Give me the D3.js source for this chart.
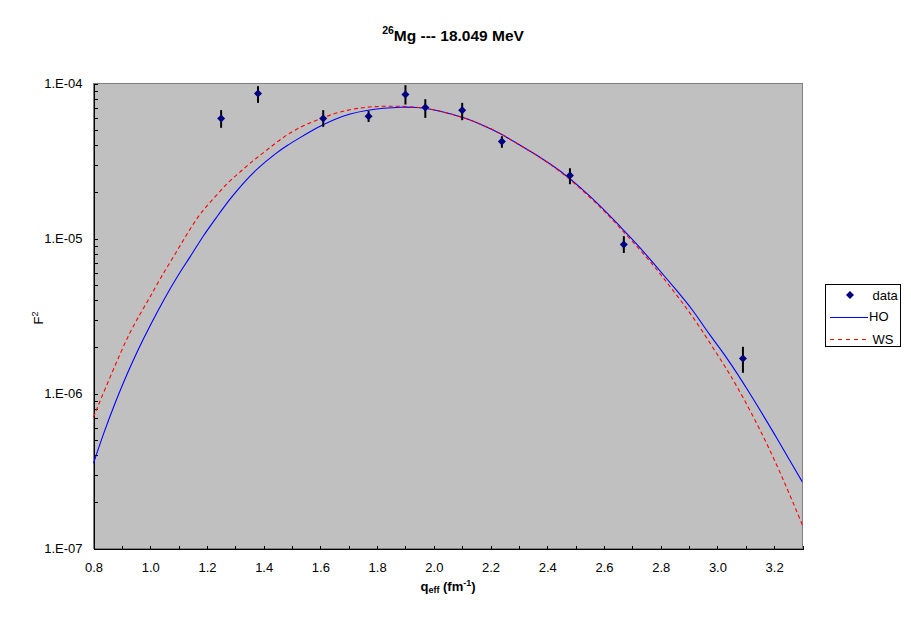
<!DOCTYPE html>
<html>
<head>
<meta charset="utf-8">
<script src="https://cdn.jsdelivr.net/npm/d3@7"></script>
<style>
  html, body { margin: 0; padding: 0; background: #ffffff; }
  svg { display: block; }
  text { font-family: Arial, "Liberation Sans", sans-serif; fill: #000; }
</style>
</head>
<body>
<script>
// ---------- data ----------
const titleMain = "Mg --- 18.049 MeV";
const titleSup = "26";
const xTickValues = [0.8, 1.0, 1.2, 1.4, 1.6, 1.8, 2.0, 2.2, 2.4, 2.6, 2.8, 3.0, 3.2];
const yTickValues = [1e-4, 1e-5, 1e-6, 1e-7];
const yTickLabels = ["1.E-04", "1.E-05", "1.E-06", "1.E-07"];
const legendLabels = ["data", "HO", "WS"];

// measured points with error bars
const dataQ  = [1.25, 1.38, 1.61, 1.77, 1.90, 1.97, 2.10, 2.24, 2.48, 2.67, 3.09];
const dataF2 = [5.94e-5, 8.62e-5, 5.94e-5, 6.15e-5, 8.49e-5, 7.00e-5, 6.73e-5, 4.22e-5, 2.55e-5, 9.14e-6, 1.68e-6];
const dataHi = [6.73e-5, 9.61e-5, 6.73e-5, 6.66e-5, 9.75e-5, 7.92e-5, 7.50e-5, 4.57e-5, 2.84e-5, 1.035e-5, 2.00e-6];
const dataLo = [5.18e-5, 7.50e-5, 5.25e-5, 5.65e-5, 7.32e-5, 6.00e-5, 5.80e-5, 3.85e-5, 2.24e-5, 8.07e-6, 1.36e-6];

// HO curve
const hoQ = [0.800, 0.835, 0.882, 0.918, 0.953, 1.000, 1.047, 1.094, 1.141, 1.188, 1.235, 1.282, 1.329, 1.376,
             1.446, 1.481, 1.528, 1.587, 1.646, 1.705, 1.763, 1.822, 1.881, 1.940, 1.998, 2.057, 2.116, 2.174,
             2.233, 2.303, 2.374, 2.444, 2.515, 2.585, 2.656, 2.726, 2.785, 2.856, 2.914, 2.973, 3.032, 3.108,
             3.202, 3.300];
const hoF2 = [3.55e-7, 5.52e-7, 9.28e-7, 1.332e-6, 1.855e-6, 2.758e-6, 3.999e-6, 5.65e-6, 7.61e-6, 1.050e-5,
              1.378e-5, 1.811e-5, 2.29e-5, 2.82e-5, 3.58e-5, 3.97e-5, 4.47e-5, 5.185e-5, 5.857e-5, 6.40e-5,
              6.726e-5, 6.93e-5, 7.06e-5, 7.03e-5, 6.80e-5, 6.40e-5, 5.94e-5, 5.38e-5, 4.80e-5, 4.00e-5,
              3.36e-5, 2.758e-5, 2.152e-5, 1.640e-5, 1.200e-5, 8.83e-6, 6.56e-6, 4.64e-6, 3.45e-6, 2.377e-6,
              1.722e-6, 1.050e-6, 5.46e-7, 2.68e-7];

// WS curve
const wsQ = [0.800, 0.824, 0.859, 0.894, 0.929, 0.965, 1.000, 1.035, 1.082, 1.129, 1.175, 1.223, 1.270, 1.317,
             1.364, 1.411, 1.469, 1.528, 1.587, 1.646, 1.705, 1.763, 1.822, 1.881, 1.940, 1.998, 2.057, 2.116,
             2.174, 2.233, 2.303, 2.374, 2.444, 2.515, 2.585, 2.632, 2.761, 2.820, 2.879, 2.938, 2.997, 3.055,
             3.184, 3.300];
const wsF2 = [7.03e-7, 9.05e-7, 1.280e-6, 1.811e-6, 2.496e-6, 3.28e-6, 4.20e-6, 5.52e-6, 7.61e-6, 1.066e-5,
              1.449e-5, 1.811e-5, 2.263e-5, 2.690e-5, 3.20e-5, 3.713e-5, 4.52e-5, 5.25e-5, 5.80e-5, 6.40e-5,
              6.80e-5, 7.06e-5, 7.14e-5, 7.14e-5, 7.06e-5, 6.80e-5, 6.40e-5, 5.94e-5, 5.38e-5, 4.80e-5,
              4.00e-5, 3.35e-5, 2.73e-5, 2.12e-5, 1.61e-5, 1.312e-5, 7.24e-6, 5.25e-6, 3.81e-6, 2.69e-6,
              1.811e-6, 1.250e-6, 4.54e-7, 1.413e-7];

// ---------- layout ----------
const W = 911, H = 623;
const plot = { left: 93.5, right: 802.5, top: 83.5, bottom: 548.5 };

const svg = d3.select("body").append("svg").attr("width", W).attr("height", H);

const x = d3.scaleLinear().domain([0.8, 3.3]).range([plot.left, plot.right]);
const y = d3.scaleLog().domain([1e-7, 1e-4]).range([plot.bottom, plot.top]);

// plot background
svg.append("rect")
  .attr("x", plot.left).attr("y", plot.top)
  .attr("width", plot.right - plot.left).attr("height", plot.bottom - plot.top)
  .attr("fill", "#c0c0c0").attr("stroke", "#808080").attr("stroke-width", 1)
  .attr("shape-rendering", "crispEdges");

svg.append("defs").append("clipPath").attr("id", "clip")
  .append("rect")
  .attr("x", plot.left - 3).attr("y", plot.top)
  .attr("width", plot.right - plot.left + 3).attr("height", plot.bottom - plot.top);

// minor ticks on y
const yMinor = [];
for (let e = -7; e < -4; e++) for (let m = 2; m <= 9; m++) yMinor.push(m * Math.pow(10, e));

const yAxisMinor = d3.axisLeft(y).tickValues(yMinor).tickSize(-4).tickFormat("");
svg.append("g").attr("transform", `translate(${plot.left},0)`).call(yAxisMinor)
  .attr("shape-rendering", "crispEdges")
  .call(g => g.select(".domain").remove())
  .call(g => g.selectAll("line").attr("stroke", "#000"));

const yAxis = d3.axisLeft(y).tickValues(yTickValues).tickSize(-4).tickPadding(11)
  .tickFormat((d, i) => yTickLabels[i]);
svg.append("g").attr("transform", `translate(${plot.left},0)`).call(yAxis)
  .attr("shape-rendering", "crispEdges")
  .call(g => g.select(".domain").attr("stroke", "#000"))
  .call(g => g.selectAll("text").attr("font-size", 13).attr("font-family", 'Arial, "Liberation Sans", sans-serif'))
  .call(g => g.selectAll("line").attr("stroke", "#000"));

// x axis: minor every 0.1, labels every 0.2
const xMinor = d3.range(0, 26).map(i => +(0.8 + i * 0.1).toFixed(1));
const xAxisMinor = d3.axisBottom(x).tickValues(xMinor).tickSize(-3).tickFormat("");
svg.append("g").attr("transform", `translate(0,${plot.bottom})`).call(xAxisMinor)
  .attr("shape-rendering", "crispEdges")
  .call(g => g.select(".domain").remove())
  .call(g => g.selectAll("line").attr("stroke", "#000"));

const xAxis = d3.axisBottom(x).tickValues(xTickValues).tickSize(-3).tickPadding(14.5).tickFormat(d3.format(".1f"));
svg.append("g").attr("transform", `translate(0,${plot.bottom})`).call(xAxis)
  .attr("shape-rendering", "crispEdges")
  .call(g => g.select(".domain").attr("stroke", "#000"))
  .call(g => g.selectAll("text").attr("font-size", 13).attr("font-family", 'Arial, "Liberation Sans", sans-serif'))
  .call(g => g.selectAll("line").attr("stroke", "#000"));

// curves
const lineGen = d3.line().x(d => x(d[0])).y(d => y(d[1])).curve(d3.curveBasis);
const curves = svg.append("g").attr("clip-path", "url(#clip)");
curves.append("path")
  .attr("d", lineGen(d3.zip(hoQ, hoF2)))
  .attr("fill", "none").attr("stroke", "#0000ff").attr("stroke-width", 1.1);
curves.append("path")
  .attr("d", lineGen(d3.zip(wsQ, wsF2)))
  .attr("fill", "none").attr("stroke", "#ff0000").attr("stroke-width", 1.1)
  .attr("stroke-dasharray", "4,3");

// error bars
const pts = dataQ.map((q, i) => ({ q, f: dataF2[i], hi: dataHi[i], lo: dataLo[i] }));
svg.append("g").selectAll("line").data(pts).join("line")
  .attr("x1", d => x(d.q)).attr("x2", d => x(d.q))
  .attr("y1", d => y(d.hi)).attr("y2", d => y(d.lo))
  .attr("stroke", "#000").attr("stroke-width", 2);

// diamond markers
const diamond = (cx, cy, r) => `M${cx},${cy - r}L${cx + r},${cy}L${cx},${cy + r}L${cx - r},${cy}Z`;
svg.append("g").selectAll("path").data(pts).join("path")
  .attr("d", d => diamond(x(d.q), y(d.f), 4))
  .attr("fill", "#000080");

// title
const title = svg.append("text").attr("x", 453).attr("y", 41).attr("text-anchor", "middle")
  .attr("font-weight", "bold").attr("font-size", 15.5);
title.append("tspan").attr("font-size", 10.5).attr("dy", -7).text(titleSup);
title.append("tspan").attr("dy", 7).text(titleMain);

// x axis title
const xt = svg.append("text").attr("x", (plot.left + plot.right) / 2).attr("y", 591)
  .attr("text-anchor", "middle").attr("font-weight", "bold").attr("font-size", 13);
xt.append("tspan").text("q");
xt.append("tspan").attr("font-size", 9).attr("dy", 2).text("eff");
xt.append("tspan").attr("dy", -2).text(" (fm");
xt.append("tspan").attr("font-size", 9).attr("dy", -5).text("-1");
xt.append("tspan").attr("dy", 5).text(")");

// y axis title
const yt = svg.append("text").attr("transform", "translate(43,318) rotate(-90)")
  .attr("text-anchor", "middle").attr("font-size", 13).style("fill", "#000");
yt.append("tspan").style("fill", "#000").text("F");
yt.append("tspan").style("fill", "#000").attr("font-size", 9).attr("dy", -5).text("2");

// legend
const lg = svg.append("g");
lg.append("rect").attr("x", 825.5).attr("y", 284.5).attr("width", 75).attr("height", 62)
  .attr("fill", "#fff").attr("stroke", "#000").attr("stroke-width", 1).attr("shape-rendering", "crispEdges");
lg.append("path").attr("d", diamond(850, 295, 4)).attr("fill", "#000080");
lg.append("text").attr("x", 872.5).attr("y", 299.5).attr("font-size", 13).text(legendLabels[0]);
lg.append("line").attr("x1", 830).attr("x2", 868).attr("y1", 317.5).attr("y2", 317.5)
  .attr("stroke", "#0000ff").attr("stroke-width", 1).attr("shape-rendering", "crispEdges");
lg.append("text").attr("x", 869).attr("y", 321).attr("font-size", 13).text(legendLabels[1]);
lg.append("line").attr("x1", 830).attr("x2", 868).attr("y1", 339.5).attr("y2", 339.5)
  .attr("stroke", "#ff0000").attr("stroke-width", 1).attr("stroke-dasharray", "4,4")
  .attr("shape-rendering", "crispEdges");
lg.append("text").attr("x", 872.5).attr("y", 343.5).attr("font-size", 13).text(legendLabels[2]);
</script>
</body>
</html>
